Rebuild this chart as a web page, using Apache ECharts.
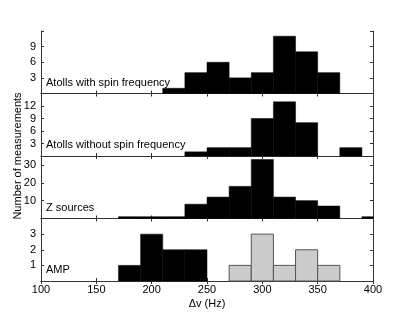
<!DOCTYPE html>
<html>
<head>
<meta charset="utf-8">
<script src="https://cdn.jsdelivr.net/npm/echarts@6/dist/echarts.min.js"></script>
<style>
html,body{margin:0;padding:0;background:#fff;}
#chart{width:415px;height:312px;}
</style>
</head>
<body>
<div id="chart"></div>
<script>
// ---- data ----
const binWidth = 20;
const panelLabels = ['Atolls with spin frequency', 'Atolls without spin frequency', 'Z sources', 'AMP'];
const spinEdges = [210, 230, 250, 270, 290, 310, 330, 350];
const spinCounts = [1, 4, 6, 3, 4, 11, 8, 4];
const noSpinEdges = [230, 250, 270, 290, 310, 330, 350, 370];
const noSpinCounts = [1, 2, 2, 9, 13, 8, 0, 2];
const zEdges = [170, 190, 210, 230, 250, 270, 290, 310, 330, 350, 370, 390];
const zCounts = [1, 1, 1, 8, 12, 18, 33, 12, 10, 7, 0, 1];
const ampLowEdges = [170, 190, 210, 230];
const ampLowCounts = [1, 3, 2, 2];
const ampHighEdges = [270, 290, 310, 330, 350];
const ampHighCounts = [1, 3, 1, 2, 1];
const yMaxes = [12, 15, 35, 4];
const yIntervals = [3, 3, 10, 1];
const xTicks = [100, 150, 200, 250, 300, 350, 400];

// ---- layout ----
const FONT = 'Liberation Sans, Arial, Helvetica, sans-serif';
const L = 41, R = 373, TOP = 31, BOT = 281;
const PH = (BOT - TOP) / 4;

function toData(edges, counts) {
  return edges.map((e, i) => [e, e + binWidth, counts[i]]);
}

function renderItem(params, api) {
  const y = api.value(2);
  if (!y) return null;
  const p0 = api.coord([api.value(0), 0]);
  const p1 = api.coord([api.value(1), y]);
  const rect = { x: p0[0], y: p1[1], width: p1[0] - p0[0], height: p0[1] - p1[1] };
  const cs = params.coordSys;
  const clipped = echarts.graphic.clipRectByRect(rect, { x: cs.x, y: cs.y, width: cs.width, height: cs.height });
  if (!clipped) return null;
  return { type: 'rect', shape: clipped, style: api.style() };
}

const grids = [], xAxes = [], yAxes = [], series = [], graphics = [];
const lineStyle = { color: '#333', width: 1 };
for (let i = 0; i < 4; i++) {
  grids.push({ left: L, width: R - L, top: TOP + i * PH, height: PH });
  ['bottom', 'top'].forEach((pos) => {
    xAxes.push({
      gridIndex: i, type: 'value', position: pos, min: xTicks[0], max: xTicks[xTicks.length - 1],
      interval: xTicks[1] - xTicks[0],
      axisLine: { show: true, lineStyle }, splitLine: { show: false },
      axisTick: { show: true, inside: true, length: 3, lineStyle },
      axisLabel: { show: pos === 'bottom' && i === 3, color: '#000', fontSize: 11, fontFamily: FONT, margin: 3 },
      name: (pos === 'bottom' && i === 3) ? 'Δv (Hz)' : '',
      nameLocation: 'middle', nameGap: 17,
      nameTextStyle: { color: '#000', fontSize: 11, fontFamily: FONT }
    });
  });
  ['left', 'right'].forEach((pos) => {
    const mx = yMaxes[i], iv = yIntervals[i];
    yAxes.push({
      gridIndex: i, type: 'value', position: pos, min: 0, max: mx, interval: iv,
      axisLine: { show: true, lineStyle }, splitLine: { show: false },
      axisTick: { show: true, inside: true, length: 3, lineStyle },
      axisLabel: {
        show: pos === 'left', color: '#000', fontSize: 11, fontFamily: FONT, margin: 5,
        formatter: (v) => (v === 0 || v >= mx || v % iv !== 0) ? '' : String(v)
      }
    });
  });
  graphics.push({
    type: 'text', left: L + 5, top: TOP + (i + 1) * PH - 16.5,
    style: { text: panelLabels[i], fill: '#000', font: '11px ' + FONT }
  });
}

const panelData = [
  [toData(spinEdges, spinCounts)],
  [toData(noSpinEdges, noSpinCounts)],
  [toData(zEdges, zCounts)],
  [toData(ampLowEdges, ampLowCounts), toData(ampHighEdges, ampHighCounts)]
];
panelData.forEach((list, i) => {
  list.forEach((d, j) => {
    const gray = (i === 3 && j === 1);
    series.push({
      type: 'custom', xAxisIndex: 2 * i, yAxisIndex: 2 * i,
      renderItem, data: d, encode: { x: [0, 1], y: 2 },
      itemStyle: gray ? { color: '#cccccc', borderColor: '#555', borderWidth: 1 }
                      : { color: '#000', borderColor: '#000', borderWidth: 0.5 },
      silent: true, animation: false
    });
  });
});

graphics.push({
  type: 'text', rotation: Math.PI / 2, x: 18, y: (TOP + BOT) / 2,
  style: { text: 'Number of measurements', fill: '#000', font: '11px ' + FONT, textAlign: 'center', textVerticalAlign: 'middle' }
});

const chart = echarts.init(document.getElementById('chart'), null, { renderer: 'canvas' });
chart.setOption({
  animation: false,
  backgroundColor: '#fff',
  grid: grids, xAxis: xAxes, yAxis: yAxes, series, graphic: graphics
});
</script>
</body>
</html>
